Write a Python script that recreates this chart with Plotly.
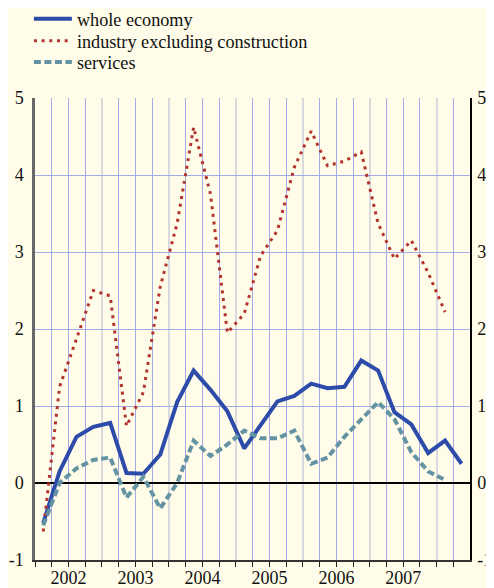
import plotly.graph_objs as go

# quarterly observations, plotted at mid-quarter
quarters = ["2002-02-15", "2002-05-15", "2002-08-15", "2002-11-15",
            "2003-02-15", "2003-05-15", "2003-08-15", "2003-11-15",
            "2004-02-15", "2004-05-15", "2004-08-15", "2004-11-15",
            "2005-02-15", "2005-05-15", "2005-08-15", "2005-11-15",
            "2006-02-15", "2006-05-15", "2006-08-15", "2006-11-15",
            "2007-02-15", "2007-05-15", "2007-08-15", "2007-11-15",
            "2008-02-15", "2008-05-15"]

whole_economy = [-0.52, 0.15, 0.60, 0.73,
                 0.78, 0.13, 0.12, 0.37,
                 1.05, 1.46, 1.21, 0.93,
                 0.45, 0.75, 1.06, 1.13,
                 1.29, 1.23, 1.25, 1.59,
                 1.46, 0.92, 0.76, 0.39,
                 0.55, 0.25]

industry = [-0.63, 1.25, 1.87, 2.50,
            2.43, 0.74, 1.18, 2.55,
            3.37, 4.62, 3.75, 1.95,
            2.20, 2.95, 3.28, 4.10,
            4.57, 4.12, 4.18, 4.30,
            3.37, 2.91, 3.15, 2.73,
            2.22]

services = [-0.55, 0.00, 0.19, 0.30,
            0.33, -0.19, 0.08, -0.33,
            0.00, 0.55, 0.35, 0.50,
            0.68, 0.58, 0.58, 0.68,
            0.25, 0.33, 0.60, 0.83,
            1.05, 0.83, 0.40, 0.15,
            0.04]

y_ticks = [-1, 0, 1, 2, 3, 4, 5]
y_labels = ["-1", "0", "1", "2", "3", "4", "5"]  # plain hyphen as in the original

bg = "#FFFDE9"
grid_blue = "#A3AAE6"
year_grey = "#D9D9E0"
serif = "Liberation Serif, Times New Roman, serif"

trace_whole = go.Scatter(x=quarters, y=whole_economy, mode="lines", name="whole economy",
                         line=dict(color="#2D4BA9", width=4), legend="legend")
trace_industry = go.Scatter(x=quarters[:len(industry)], y=industry, mode="lines",
                            name="industry excluding construction",
                            line=dict(color="#B3342F", width=3, dash="3px,4.7px"),
                            legend="legend2")
trace_services = go.Scatter(x=quarters[:len(services)], y=services, mode="lines", name="services",
                            line=dict(color="#6493A3", width=4, dash="7px,3.5px"),
                            legend="legend3")
# empty trace so the right-hand axis gets drawn
trace_right = go.Scatter(x=[None], y=[None], yaxis="y2", showlegend=False, hoverinfo="skip")

# one legend per entry so the rows sit where the original has them
def legend_box(y):
    return dict(xref="container", yref="container", x=0.043, y=y,
                xanchor="left", yanchor="middle", bgcolor="rgba(0,0,0,0)",
                font=dict(size=18.2, color="#111111"), itemwidth=38)

layout = go.Layout(
    # page body adds an 8px offset, so the figure is 8px smaller than the window
    width=486, height=580,
    margin=dict(l=27, r=24, t=90, b=28, autoexpand=False),
    paper_bgcolor=bg, plot_bgcolor=bg,
    font=dict(family=serif, size=18, color="#111111"),
    showlegend=True,
    legend=legend_box(0.981),
    legend2=legend_box(0.9431),
    legend3=legend_box(0.9068),
    xaxis=dict(type="date", range=["2002-01-01", "2008-06-30"],
               tick0="2002-01-01", dtick="M12", tickformat="%Y", ticklabelmode="period",
               tickangle=0, ticklabelstandoff=-4,
               showgrid=True, gridcolor=year_grey, gridwidth=2,
               ticks="outside", ticklen=5, tickcolor="#222222",
               minor=dict(dtick="M3", showgrid=True, gridcolor=grid_blue, gridwidth=1,
                          ticks="outside", ticklen=5, tickcolor="#222222"),
               showline=True, linecolor="#333333", linewidth=1.5,
               zeroline=False, fixedrange=True),
    yaxis=dict(range=[-1, 5], tickvals=y_ticks, ticktext=y_labels,
               showgrid=True, gridcolor=grid_blue, gridwidth=1,
               zeroline=True, zerolinecolor="#000000", zerolinewidth=1.5,
               showline=True, linecolor="#666666", linewidth=2.5,
               ticks="", ticklabelstandoff=5),
    yaxis2=dict(range=[-1, 5], tickvals=y_ticks, ticktext=y_labels,
                overlaying="y", side="right",
                showgrid=False, zeroline=False,
                showline=True, linecolor="#000000", linewidth=1.5,
                ticks="", ticklabelstandoff=2),
)

fig = go.Figure(data=[trace_whole, trace_industry, trace_services, trace_right], layout=layout)
fig.write_html("out.html", config={"displayModeBar": False})
